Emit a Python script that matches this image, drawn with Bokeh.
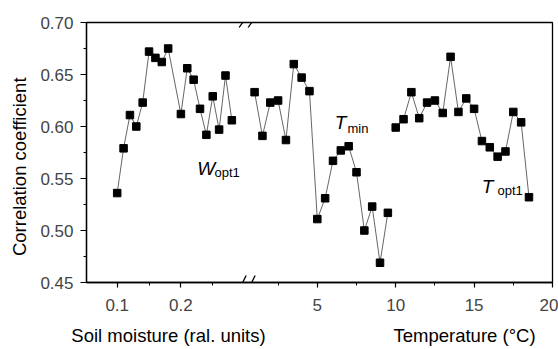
import math
from bokeh.plotting import figure
from bokeh.models import (Range1d, FixedTicker, LinearAxis, Label, Arrow,
                          PrintfTickFormatter, ColumnDataSource)
from bokeh.embed import file_html
from bokeh.resources import INLINE

# ---------------- data ----------------
soil_moisture = [0.10, 0.11, 0.12, 0.13, 0.14, 0.15, 0.16, 0.17, 0.18,
                 0.20, 0.21, 0.22, 0.23, 0.24, 0.25, 0.26, 0.27, 0.28]
wopt1_r = [0.536, 0.579, 0.611, 0.600, 0.623, 0.672, 0.666, 0.662, 0.675,
           0.612, 0.656, 0.645, 0.617, 0.592, 0.629, 0.597, 0.649, 0.606]

tmin_temp = [1.0, 1.5, 2.0, 2.5, 3.0, 3.5, 4.0, 4.5, 5.0,
             5.5, 6.0, 6.5, 7.0, 7.5, 8.0, 8.5, 9.0, 9.5]
tmin_r = [0.633, 0.591, 0.623, 0.625, 0.587, 0.660, 0.647, 0.634, 0.511,
          0.531, 0.567, 0.577, 0.581, 0.556, 0.500, 0.523, 0.469, 0.517]

topt1_temp = [10.0, 10.5, 11.0, 11.5, 12.0, 12.5, 13.0, 13.5, 14.0,
              14.5, 15.0, 15.5, 16.0, 16.5, 17.0, 17.5, 18.0, 18.5]
topt1_r = [0.599, 0.607, 0.633, 0.608, 0.623, 0.625, 0.613, 0.667, 0.614,
           0.627, 0.617, 0.586, 0.580, 0.571, 0.576, 0.614, 0.604, 0.532]

y_ticks = [0.45, 0.50, 0.55, 0.60, 0.65, 0.70]
y_minor = [0.475, 0.525, 0.575, 0.625, 0.675]
soil_major = [0.1, 0.2]
soil_minor = [0.15, 0.25]
temp_major = [5, 10, 15, 20]
temp_minor = [2.5, 7.5, 12.5, 17.5]
soil_break = 0.304   # soil value where the axis is broken

# ---------------- figure ----------------
FONT = "Liberation Sans"
T0, T1 = -9.72, 20.0          # temperature range (main x range)
S0, S1 = 0.0518, 0.7834       # soil moisture range (same pixels)
Y0, Y1 = 0.45, 0.70

p = figure(width=558, height=349, output_backend="svg", toolbar_location=None,
           x_range=Range1d(T0, T1), y_range=Range1d(Y0, Y1),
           x_axis_type=None, y_axis_type=None,
           min_border_left=86, min_border_right=6,
           min_border_top=22, min_border_bottom=67)
p.extra_x_ranges = {"soil": Range1d(S0, S1)}
p.outline_line_color = "black"
p.outline_line_width = 1.3
p.background_fill_color = "white"
p.border_fill_color = "white"


def soil_u(m):
    return T0 + (m - S0) * (T1 - T0) / (S1 - S0)


# y axis
yax = LinearAxis(ticker=FixedTicker(ticks=y_ticks, minor_ticks=y_minor),
                 formatter=PrintfTickFormatter(format="%.2f"))
yax.major_tick_out = 6
yax.major_tick_in = 0
yax.minor_tick_out = 3
yax.minor_tick_in = 0
yax.axis_line_width = 1.3
yax.major_tick_line_width = 1.2
yax.major_label_text_font = FONT
yax.major_label_text_font_size = "17px"
yax.major_label_standoff = 7
p.add_layout(yax, "left")

# x axis (soil moisture part + temperature part on one line)
x_major = [soil_u(m) for m in soil_major] + [float(t) for t in temp_major]
x_minor = [soil_u(m) for m in soil_minor] + temp_minor
labels = {soil_u(m): f"{m:g}" for m in soil_major}
labels.update({float(t): f"{t}" for t in temp_major})
xax = LinearAxis(ticker=FixedTicker(ticks=x_major, minor_ticks=x_minor),
                 major_label_overrides=labels)
xax.major_tick_out = 5
xax.major_tick_in = 0
xax.minor_tick_out = 3
xax.minor_tick_in = 0
xax.axis_line_width = 1.3
xax.major_tick_line_width = 1.2
xax.major_label_text_font = FONT
xax.major_label_text_font_size = "17px"
xax.major_label_standoff = 11
p.add_layout(xax, "below")

# series
LINE_C = "#555555"
src_w = ColumnDataSource(dict(x=soil_moisture, y=wopt1_r))
src_n = ColumnDataSource(dict(x=tmin_temp, y=tmin_r))
src_o = ColumnDataSource(dict(x=topt1_temp, y=topt1_r))
p.line("x", "y", source=src_w, x_range_name="soil", line_color=LINE_C, line_width=0.9)
p.scatter("x", "y", source=src_w, x_range_name="soil", marker="square", size=7.5,
          fill_color="black", line_color="black")
for src in (src_n, src_o):
    p.line("x", "y", source=src, line_color=LINE_C, line_width=0.9)
    p.scatter("x", "y", source=src, marker="square", size=7.5,
              fill_color="black", line_color="black")

# axis break marks "//" on bottom and top lines
bx = soil_u(soil_break)
upx = (T1 - T0) / 466.0     # x units per pixel
vpx = (Y1 - Y0) / 260.0     # y units per pixel
for yb, h, place in ((Y0, 7, "below"), (Y1, 5, "above")):
    for off in (-4.5, 4.5):
        cx = bx + off * upx
        p.add_layout(Arrow(x_start=cx - 3.5 * upx, y_start=yb - h * vpx,
                           x_end=cx + 3.5 * upx, y_end=yb + h * vpx,
                           start=None, end=None, line_color="black",
                           line_width=1.3), place)


# series labels
def make_label(x, y, text, size, italic=False, rng="default", align="left",
               angle=0.0):
    return Label(x=x, y=y, x_range_name=rng, text=text, text_font=FONT,
                 text_font_size=size, angle=angle,
                 text_font_style="italic" if italic else "normal",
                 text_align=align, text_baseline="alphabetic",
                 text_color="black")


p.add_layout(make_label(0.2255, 0.5593, "W", "19px", italic=True, rng="soil"))
p.add_layout(make_label(0.2527, 0.5555, "opt1", "13px", rng="soil"))
p.add_layout(make_label(6.12, 0.6038, "T", "19px", italic=True))
p.add_layout(make_label(6.92, 0.5985, "min", "13px"))
p.add_layout(make_label(15.48, 0.5420, "T", "19px", italic=True))
p.add_layout(make_label(16.49, 0.5380, "opt1", "13px"))

# axis titles (placed in side panels so that they are not clipped;
# their position is given in data coordinates)
p.add_layout(make_label(-4.49, 0.3988, "Soil moisture (ral. units)", "18.5px",
                        align="center"), "below")
p.add_layout(make_label(14.39, 0.3988, "Temperature (°C)", "18.5px",
                        align="center"), "above")
p.add_layout(make_label(T0 - 67 * upx, 0.5613, "Correlation coefficient",
                        "18.5px", align="center", angle=math.pi / 2), "left")

open("out.html", "w").write(file_html(p, INLINE))
